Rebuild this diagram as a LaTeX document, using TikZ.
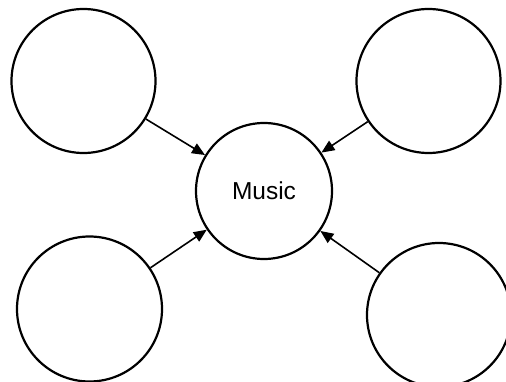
\documentclass[tikz,border=0pt]{standalone}
\usepackage{fontspec}
\setmainfont{Liberation Sans}
\usetikzlibrary{arrows.meta}
\begin{document}
\begin{tikzpicture}[x=1pt,y=-1pt,
  bubble/.style={draw=black,line width=2.2pt,circle,inner sep=0pt,fill=white},
  link/.style={draw=black,line width=1.6pt,-{Triangle[length=13pt,width=11pt]}}]
\useasboundingbox (0,0) rectangle (506,382);
\fill[white] (0,0) rectangle (506,382);
\node[bubble,minimum size=136pt,font=\fontsize{24.5}{28}\selectfont] (c) at (264,191) {Music};
\node[bubble,minimum size=144pt] (tl) at (83.5,81) {};
\node[bubble,minimum size=144pt] (tr) at (428.5,81) {};
\node[bubble,minimum size=145pt] (bl) at (89.5,309) {};
\node[bubble,minimum size=144pt] (br) at (439,315) {};
\draw[link] (tl) -- (c);
\draw[link] (tr) -- (c);
\draw[link] (bl) -- (c);
\draw[link] (br) -- (c);
\end{tikzpicture}
\end{document}
